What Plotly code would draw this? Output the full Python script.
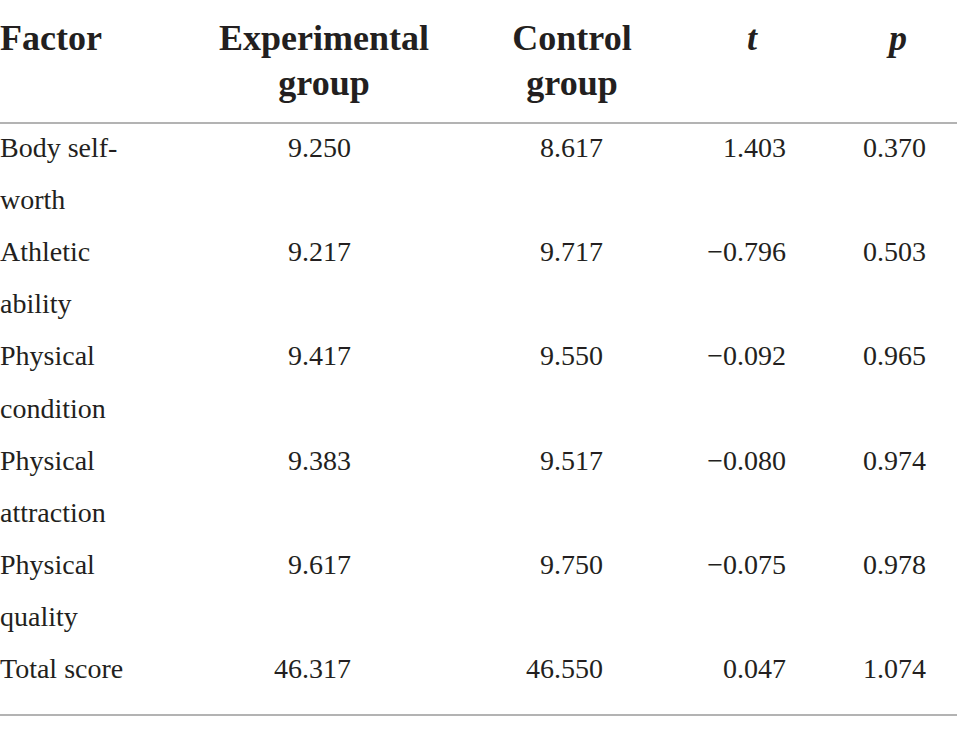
import plotly.graph_objects as go

# table content
headers = ["Factor", "Experimental<br>group", "Control<br>group", "t", "p"]
factors = [["Body self-", "worth"], ["Athletic", "ability"], ["Physical", "condition"],
           ["Physical", "attraction"], ["Physical", "quality"], ["Total score"]]
exp_group = [9.250, 9.217, 9.417, 9.383, 9.617, 46.317]
ctrl_group = [8.617, 9.717, 9.550, 9.517, 9.750, 46.550]
t_vals = [1.403, -0.796, -0.092, -0.080, -0.075, 0.047]
p_vals = [0.370, 0.503, 0.965, 0.974, 0.978, 1.074]

FONT = "Liberation Serif"
INK = "#231f20"
W, H = 957, 734

def fmt(v):
    return "{:.3f}".format(v).replace("-", "\u2212")

row_top = 150      # first body line
line_h = 52.1      # pitch of body text lines
row_y = [row_top + 2 * i * line_h for i in range(len(factors))]

fig = go.Figure()

# factor column (one point per text line)
fx, fy, ft = [], [], []
for y0, lines in zip(row_y, factors):
    for j, s in enumerate(lines):
        fx.append(0)
        fy.append(y0 + j * line_h)
        ft.append(s)
fig.add_trace(go.Scatter(x=fx, y=fy, text=ft, mode="text", textposition="middle right",
                         textfont=dict(family=FONT, size=28, color=INK), hoverinfo="skip"))

# numeric columns, right aligned
col_right = [351, 603, 786, 926]
for xr, vals in zip(col_right, [exp_group, ctrl_group, t_vals, p_vals]):
    fig.add_trace(go.Scatter(x=[xr] * len(vals), y=row_y, text=[fmt(v) for v in vals],
                             mode="text", textposition="middle left",
                             textfont=dict(family=FONT, size=28, color=INK), hoverinfo="skip"))

# header
hx = [0, 324, 572, 752, 898]
hpos = ["middle right", "middle center", "middle center", "middle center", "middle center"]
for x0, h, pos in zip(hx, headers, hpos):
    lines = h.split("<br>")
    ys = [41, 86][:len(lines)]
    if h in ("t", "p"):
        lines = ["<i>" + h + "</i>"]
    fig.add_trace(go.Scatter(x=[x0] * len(lines), y=ys, text=["<b>" + s + "</b>" for s in lines],
                             mode="text", textposition=pos,
                             textfont=dict(family=FONT, size=36, color=INK), hoverinfo="skip"))

# rules
for yl in [123, 715]:
    fig.add_shape(type="line", x0=0, x1=W, y0=yl, y1=yl, xref="x", yref="y",
                  line=dict(color="#9a9a9a", width=1.5))

fig.update_xaxes(range=[0, W], visible=False, fixedrange=True)
fig.update_yaxes(range=[H, 0], visible=False, fixedrange=True)
fig.update_layout(width=W, height=H, margin=dict(l=0, r=0, t=0, b=0),
                  plot_bgcolor="white", paper_bgcolor="white", showlegend=False)

fig.write_html("out.html", config={"displayModeBar": False},
               post_script="document.body.style.margin='0px';document.body.style.overflow='hidden';")
